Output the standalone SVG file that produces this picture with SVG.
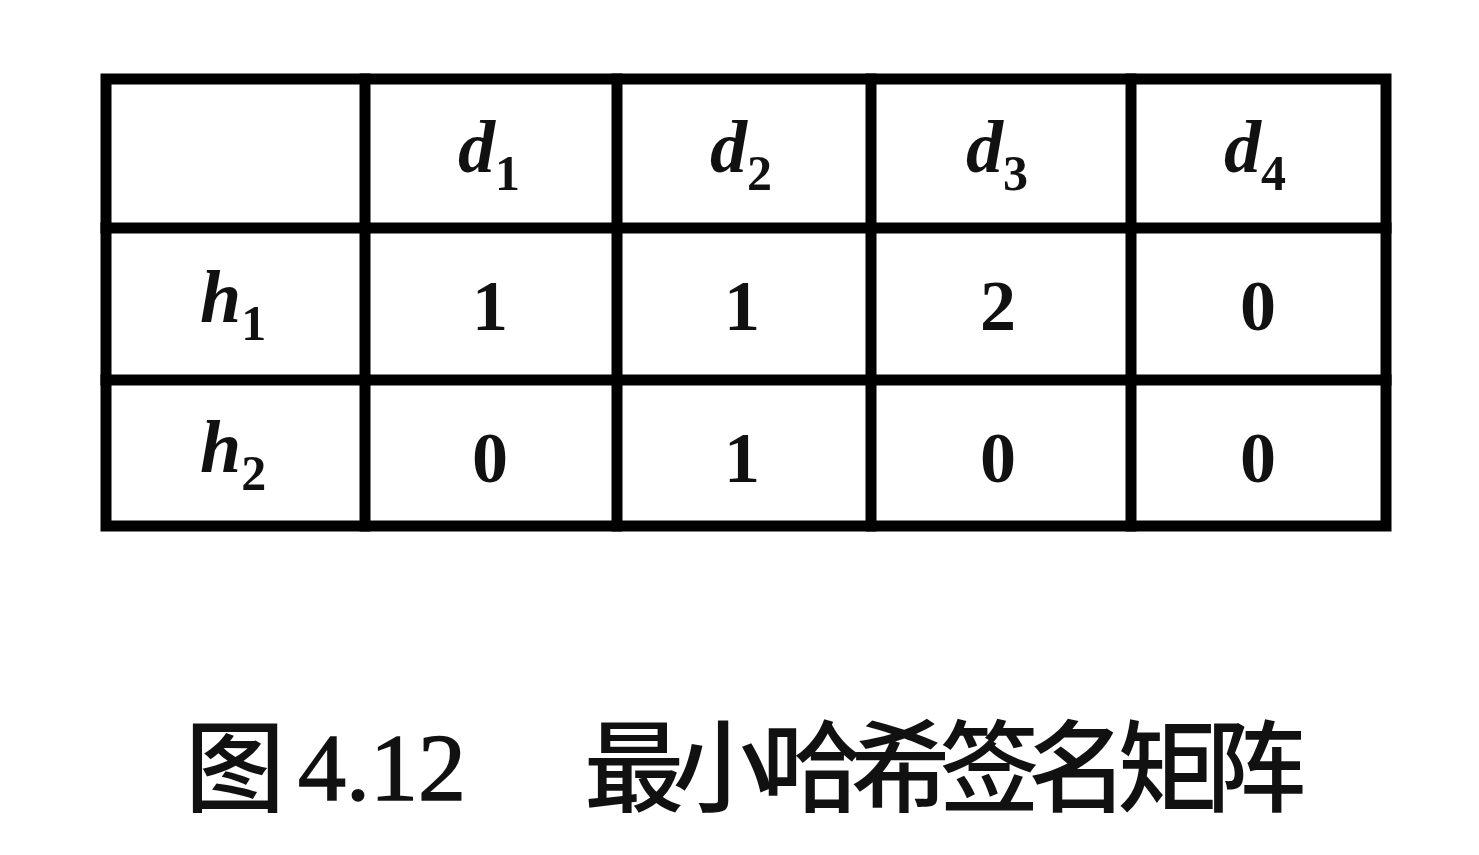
<svg xmlns="http://www.w3.org/2000/svg" width="1479" height="855" viewBox="0 0 1479 855">
<style>
.ln{stroke:#000;stroke-width:11;fill:none;stroke-linecap:square}
.v{font-family:"Liberation Serif",serif;font-style:italic;font-weight:bold;font-size:74px;fill:#111}
.s{font-family:"Liberation Serif",serif;font-style:normal;font-weight:bold;font-size:50px}
.n{font-family:"Liberation Serif",serif;font-weight:bold;font-size:72px;fill:#111;text-anchor:middle}
.cap{font-family:"Liberation Serif","Noto Sans CJK SC",serif;font-size:96px;fill:#111;stroke:#111;stroke-width:1.5}
.capz{font-family:"Noto Sans CJK SC",sans-serif;font-size:100px;fill:#111;font-weight:500}
</style>
<rect width="1479" height="855" fill="#fff"/>
<g id="table">
<rect class="ln" x="106" y="79" width="1280" height="447"/>
<line class="ln" x1="365" y1="79" x2="365" y2="526"/>
<line class="ln" x1="617" y1="79" x2="617" y2="526"/>
<line class="ln" x1="871" y1="79" x2="871" y2="526"/>
<line class="ln" x1="1131" y1="79" x2="1131" y2="526"/>
<line class="ln" x1="106" y1="228" x2="1386" y2="228"/>
<line class="ln" x1="106" y1="380" x2="1386" y2="380"/>
</g>
<g id="header">
<text class="v" x="458" y="172">d<tspan class="s" dy="18">1</tspan></text>
<text class="v" x="710" y="172">d<tspan class="s" dy="18">2</tspan></text>
<text class="v" x="966" y="172">d<tspan class="s" dy="18">3</tspan></text>
<text class="v" x="1224" y="172">d<tspan class="s" dy="18">4</tspan></text>
</g>
<g id="row1">
<text class="v" x="200" y="322">h<tspan class="s" dy="18">1</tspan></text>
<text class="n" x="490" y="330">1</text>
<text class="n" x="742" y="330">1</text>
<text class="n" x="998" y="330">2</text>
<text class="n" x="1258" y="330">0</text>
</g>
<g id="row2">
<text class="v" x="200" y="472">h<tspan class="s" dy="18">2</tspan></text>
<text class="n" x="490" y="482">0</text>
<text class="n" x="742" y="482">1</text>
<text class="n" x="998" y="482">0</text>
<text class="n" x="1258" y="482">0</text>
</g>
<g id="caption">
<text class="capz" x="185" y="804">图</text>
<text class="cap" x="298" y="800">4.12</text>
<text class="capz" x="584" y="804" textLength="722">最小哈希签名矩阵</text>
</g>
</svg>
